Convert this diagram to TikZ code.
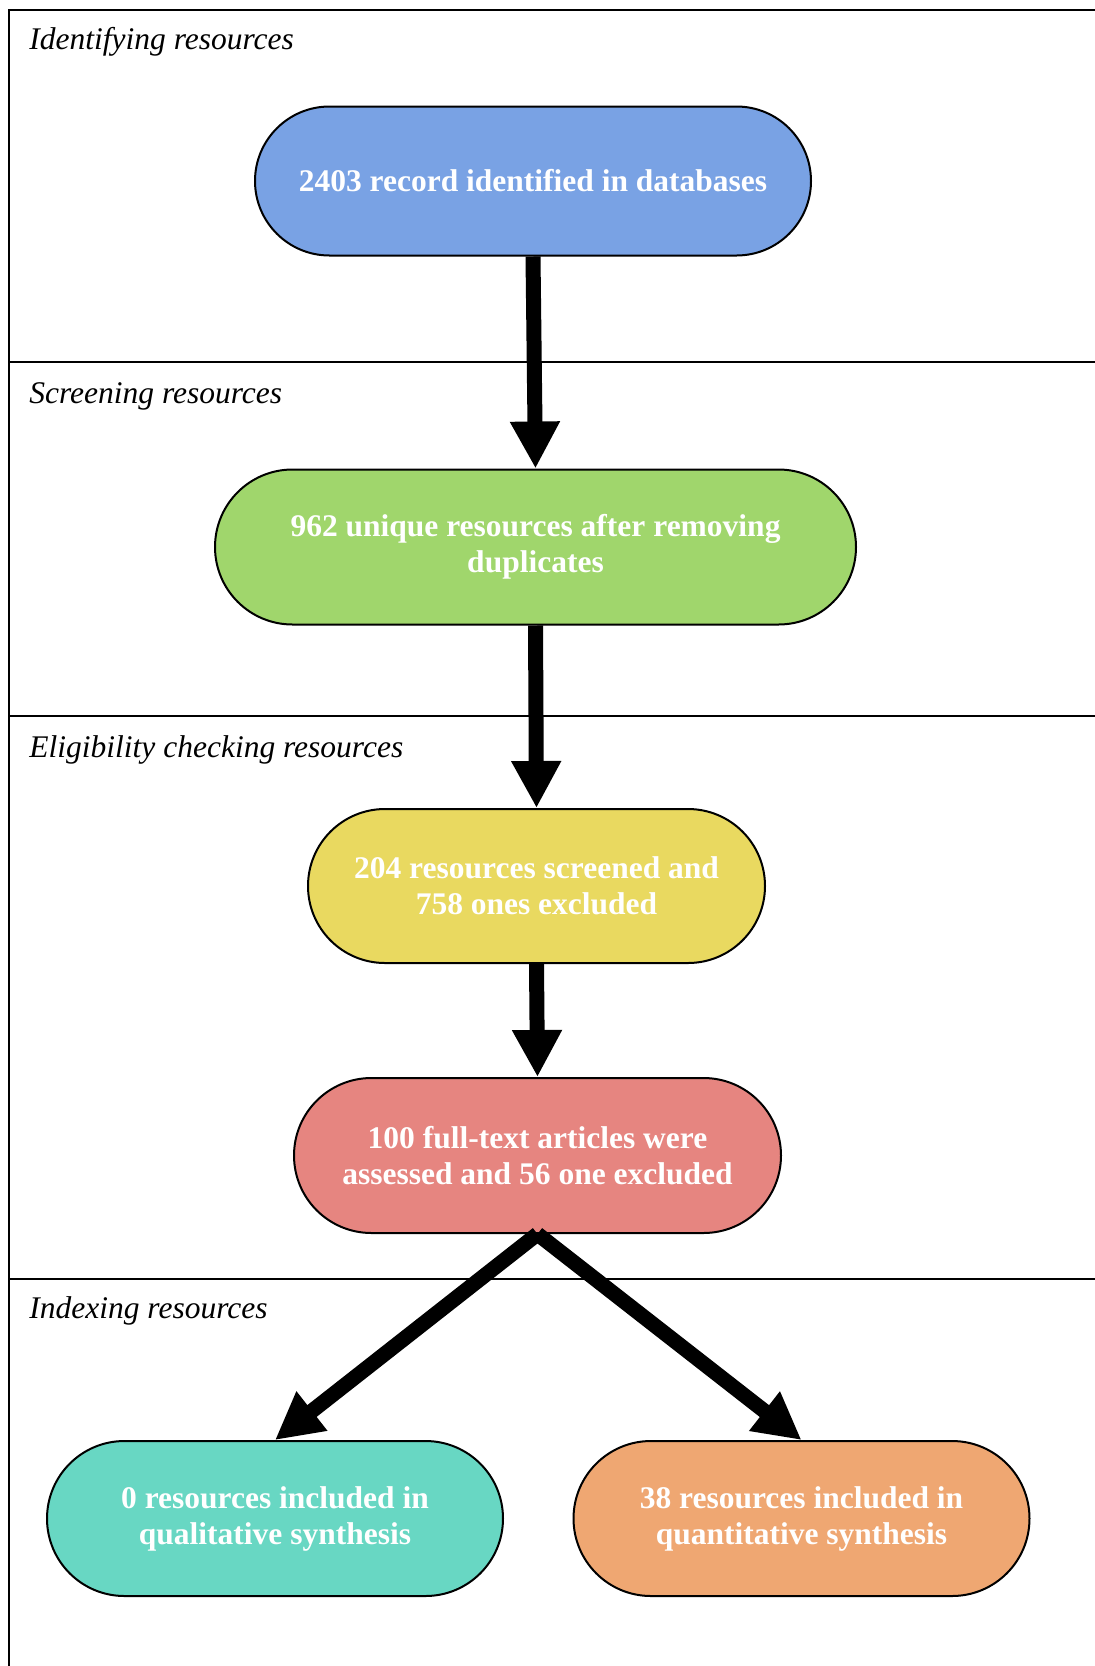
\documentclass[tikz,border=0pt]{standalone}
\usepackage{fontspec}
\setmainfont{Liberation Serif}
\usetikzlibrary{shapes.misc,arrows.meta}

\definecolor{identblue}{RGB}{121,162,228}
\definecolor{screengreen}{RGB}{160,214,108}
\definecolor{eligyellow}{RGB}{233,217,96}
\definecolor{fullred}{RGB}{230,133,128}
\definecolor{qualiteal}{RGB}{104,215,195}
\definecolor{quantiorange}{RGB}{239,167,114}

\begin{document}
\begin{tikzpicture}[x=0.5pt,y=-0.5pt,
    stage/.style={rounded rectangle, draw=black, line width=1pt, text=white,
      font=\fontsize{15.75}{18}\selectfont\bfseries, align=center, inner sep=0pt},
    phase/.style={anchor=base west, inner sep=0pt, font=\fontsize{15.75}{18}\selectfont\itshape},
    flow/.style={line width=7.5pt, -{Triangle[width=23.5pt,length=23.5pt]}}]
  \useasboundingbox (0,0) rectangle (1095,1666);
  % frame and bands
  \draw[line width=0.75pt] (9,1666) -- (9,10) -- (1095,10);
  \draw[line width=0.75pt] (9,362) -- (1095,362);
  \draw[line width=0.75pt] (9,716) -- (1095,716);
  \draw[line width=0.75pt] (9,1279) -- (1095,1279);
  \node[phase] (p1) at (29,49) {Identifying resources};
  \node[phase] (p2) at (29,403) {Screening resources};
  \node[phase] (p3) at (29,757) {Eligibility checking resources};
  \node[phase] (p4) at (29,1318) {Indexing resources};
  % stages
  \node[stage, fill=identblue, minimum width=278pt, minimum height=74.5pt] (ident) at (533,181) {2403 record identified in databases};
  \node[stage, fill=screengreen, minimum width=320.5pt, minimum height=77.5pt] (screen) at (535.5,547) {962 unique resources after removing\\duplicates};
  \node[stage, fill=eligyellow, minimum width=228.5pt, minimum height=77pt] (elig) at (536.5,886) {204 resources screened and\\758 ones excluded};
  \node[stage, fill=fullred, minimum width=243.5pt, minimum height=77.5pt] (full) at (537.5,1155.5) {100 full-text articles were\\assessed and 56 one excluded};
  \node[stage, fill=qualiteal, minimum width=228pt, minimum height=77.5pt] (quali) at (275,1518.5) {0 resources included in\\qualitative synthesis};
  \node[stage, fill=quantiorange, minimum width=228pt, minimum height=77.5pt] (quanti) at (801.5,1518.5) {38 resources included in\\quantitative synthesis};
  % arrows
  \draw[flow] (ident.south) -- (screen.north);
  \draw[flow] (screen.south) -- (elig.north);
  \draw[flow] (elig.south) -- (full.north);
  \draw[flow] (full.south) -- (quali.north);
  \draw[flow] (full.south) -- (quanti.north);
\end{tikzpicture}
\end{document}
